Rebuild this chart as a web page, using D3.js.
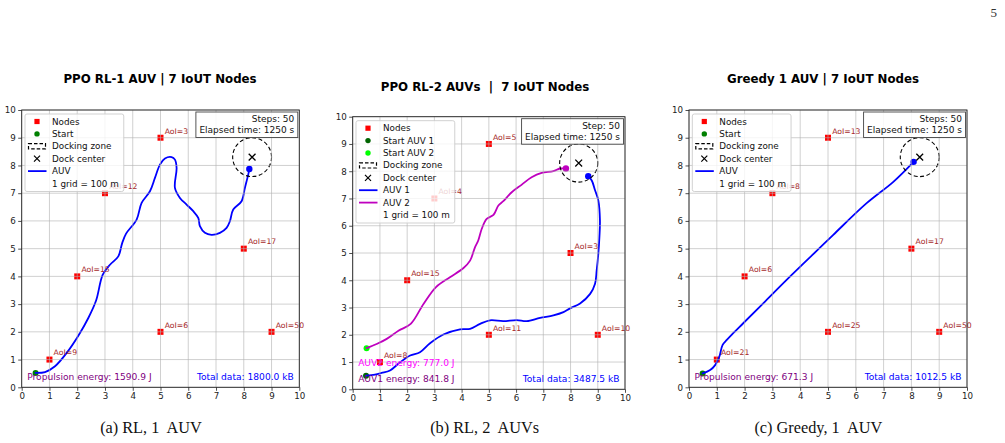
<!DOCTYPE html>
<html><head><meta charset="utf-8">
<script src="https://cdn.jsdelivr.net/npm/d3@7"></script>
<style>body{margin:0;background:#fff;} svg{display:block;} text{white-space:pre;}</style>
</head><body>
<script>
// ---------------- DATA ----------------
const axisTicks = [0,1,2,3,4,5,6,7,8,9,10];
const nodeX = [1,2,3,5,5,8,9];
const nodeY = [1,4,7,9,2,5,2];
const aoiA = [9,15,12,3,6,17,50];
const aoiB = [8,15,4,5,11,3,10];
const aoiC = [21,6,8,13,25,17,50];
const dockCenter = [8.3, 8.3];
const dockRadius = 0.7;

const titles = ["PPO RL-1 AUV | 7 IoUT Nodes", "PPO RL-2 AUVs  |  7 IoUT Nodes", "Greedy 1 AUV | 7 IoUT Nodes"];
const captions = ["(a) RL, 1  AUV", "(b) RL, 2  AUVs", "(c) Greedy, 1  AUV"];
const stepLabels = ["Steps: 50", "Step: 50", "Steps: 50"];
const elapsedLabel = "Elapsed time: 1250 s";
const totalData = ["Total data: 1800.0 kB", "Total data: 3487.5 kB", "Total data: 1012.5 kB"];
const energyA = ["Propulsion energy: 1590.9 J"];
const energyB = ["AUV2 energy: 777.0 J", "AUV1 energy: 841.8 J"];
const energyC = ["Propulsion energy: 671.3 J"];

const pathA = [[0.5,0.52],[0.84,0.55],[1.2,0.76],[1.62,1.24],[2.04,1.86],[2.4,2.5],[2.68,3.13],[2.92,4.06],
  [3.18,4.42],[3.48,4.72],[3.62,5.2],[3.76,5.54],[4.14,6.05],[4.32,6.65],[4.62,7.07],[4.8,7.55],[4.98,8.03],
  [5.16,8.25],[5.4,8.3],[5.52,8.21],[5.58,7.91],[5.52,7.19],[5.7,6.83],[5.94,6.59],[6.18,6.35],[6.36,6.11],
  [6.42,5.81],[6.6,5.57],[6.84,5.5],[7.14,5.57],[7.38,5.75],[7.5,5.99],[7.62,6.41],[7.92,6.71],[8.04,7.19],
  [8.16,7.67],[8.2,7.87]];
const pathB1 = [[0.49,0.5],[0.82,0.54],[1.06,0.6],[1.37,0.69],[1.74,0.99],[2.11,1.24],[2.47,1.36],[2.84,1.69],
  [3.33,2.01],[3.94,2.2],[4.31,2.22],[4.68,2.4],[5.04,2.53],[5.53,2.5],[6.02,2.54],[6.39,2.5],[6.88,2.62],
  [7.37,2.71],[7.74,2.83],[7.98,2.97],[8.35,3.15],[8.72,3.5],[8.9,3.87],[8.96,4.36],[9.02,4.97],[9.06,5.58],
  [9.08,6.19],[9.02,6.93],[8.9,7.3],[8.78,7.66],[8.65,7.82]];
const pathB2 = [[0.51,1.51],[0.88,1.66],[1.25,1.85],[1.68,2.15],[2.13,2.4],[2.6,3.13],[3.06,3.75],[3.57,4.11],
  [4.06,4.44],[4.31,4.72],[4.49,5.21],[4.61,5.46],[4.74,5.89],[4.92,6.25],[5.17,6.4],[5.35,6.74],[5.53,6.9],
  [5.84,7.23],[6.2,7.5],[6.57,7.78],[6.94,7.94],[7.37,8.0],[7.61,8.1],[7.83,8.1]];
const pathC = [[0.49,0.5],[0.76,0.62],[0.94,0.8],[1.09,1.1],[1.21,1.53],[1.36,1.71],[1.59,1.95],[1.95,2.31],
  [2.67,3.03],[3.63,3.99],[4.59,4.92],[5.19,5.5],[6.39,6.64],[7.35,7.41],[8.08,8.13]];

// ---------------- LAYOUT CONFIG ----------------
const panels = [
  {x0:21.7, x1:299.3, y0:387.3, y1:110, titleX:160, titleY:82.7, capX:151, aoi:aoiA,
   paths:[{pts:pathA, color:"#0000ff"}],
   starts:[{p:pathA[0], color:"#008000"}],
   ends:[{p:pathA[pathA.length-1], color:"#0000ff"}],
   energy:[{t:energyA[0], y:0.25, color:"#800080"}],
   steps:stepLabels[0], total:totalData[0], title:titles[0], caption:captions[0],
   legend:[{k:"square",c:"red",t:"Nodes"},{k:"circle",c:"#008000",t:"Start"},{k:"dash",t:"Docking zone"},
           {k:"x",t:"Dock center"},{k:"line",c:"#0000ff",t:"AUV"},{k:"none",t:"1 grid = 100 m"}]},
  {x0:352.7, x1:625, y0:389.3, y1:116.7, titleX:485, titleY:90.7, capX:484.7, aoi:aoiB,
   paths:[{pts:pathB1, color:"#0000ff"},{pts:pathB2, color:"#bf00bf"}],
   starts:[{p:pathB1[0], color:"#006400"},{p:pathB2[0], color:"#00ff00"}],
   ends:[{p:pathB1[pathB1.length-1], color:"#0000ff"},{p:pathB2[pathB2.length-1], color:"#bf00bf"}],
   energy:[{t:energyB[0], y:0.87, color:"#ff00ff"},{t:energyB[1], y:0.27, color:"#800080"}],
   steps:stepLabels[1], total:totalData[1], title:titles[1], caption:captions[1],
   legend:[{k:"square",c:"red",t:"Nodes"},{k:"circle",c:"#006400",t:"Start AUV 1"},{k:"circle",c:"#00ff00",t:"Start AUV 2"},
           {k:"dash",t:"Docking zone"},{k:"x",t:"Dock center"},{k:"line",c:"#0000ff",t:"AUV 1"},
           {k:"line",c:"#bf00bf",t:"AUV 2"},{k:"none",t:"1 grid = 100 m"}]},
  {x0:689, x1:967, y0:387.3, y1:110, titleX:823, titleY:82.7, capX:818.3, aoi:aoiC,
   paths:[{pts:pathC, color:"#0000ff"}],
   starts:[{p:pathC[0], color:"#008000"}],
   ends:[{p:pathC[pathC.length-1], color:"#0000ff"}],
   energy:[{t:energyC[0], y:0.25, color:"#800080"}],
   steps:stepLabels[2], total:totalData[2], title:titles[2], caption:captions[2],
   legend:[{k:"square",c:"red",t:"Nodes"},{k:"circle",c:"#008000",t:"Start"},{k:"dash",t:"Docking zone"},
           {k:"x",t:"Dock center"},{k:"line",c:"#0000ff",t:"AUV"},{k:"none",t:"1 grid = 100 m"}]}
];

const FONT = "DejaVu Sans, sans-serif";
const svg = d3.select("body").append("svg").attr("width",1005).attr("height",443);

svg.append("text").attr("x",997).attr("y",17).attr("text-anchor","end")
  .attr("font-family","Liberation Serif, serif").attr("font-size",13).attr("fill","#333").text("5");

function xMark(g, cx, cy, h, sw){
  g.append("path").attr("d",`M${cx-h},${cy-h}L${cx+h},${cy+h}M${cx-h},${cy+h}L${cx+h},${cy-h}`)
   .attr("stroke","#000").attr("stroke-width",sw).attr("fill","none");
}

panels.forEach(P => {
  const g = svg.append("g");
  const x = d3.scaleLinear().domain([0,10]).range([P.x0,P.x1]);
  const y = d3.scaleLinear().domain([0,10]).range([P.y0,P.y1]);
  const clipId = "clip"+Math.round(P.x0);
  svg.append("clipPath").attr("id",clipId).append("rect")
    .attr("x",P.x0).attr("y",P.y1).attr("width",P.x1-P.x0).attr("height",P.y0-P.y1);

  // title
  g.append("text").attr("x",P.titleX).attr("y",P.titleY).attr("text-anchor","middle")
    .attr("font-family",FONT).attr("font-weight","bold").attr("font-size",11.8).attr("fill","#000").text(P.title);
  // caption
  g.append("text").attr("x",P.capX).attr("y",433).attr("text-anchor","middle")
    .attr("font-family","Liberation Serif, Times New Roman, serif").attr("font-size",16.3).attr("fill","#111").text(P.caption);

  const plot = g.append("g").attr("clip-path",`url(#${clipId})`);
  // nodes (below grid)
  nodeX.forEach((nx,i)=>{
    plot.append("rect").attr("x",x(nx)-3).attr("y",y(nodeY[i])-3).attr("width",6).attr("height",6).attr("fill","#ff0000");
  });
  // docking circle
  g.append("circle").attr("cx",x(dockCenter[0])).attr("cy",y(dockCenter[1]))
    .attr("r",x(dockRadius)-x(0)).attr("fill","none").attr("stroke","#000").attr("stroke-width",1.1)
    .attr("stroke-dasharray","4,2.5");
  // start markers
  P.starts.forEach(s=>{
    plot.append("circle").attr("cx",x(s.p[0])).attr("cy",y(s.p[1])).attr("r",3).attr("fill",s.color);
  });
  // grid
  const grid = g.append("g").attr("stroke","#b0b0b0").attr("stroke-opacity",0.6).attr("stroke-width",1);
  axisTicks.forEach(t=>{
    grid.append("line").attr("x1",x(t)).attr("x2",x(t)).attr("y1",P.y0).attr("y2",P.y1);
    grid.append("line").attr("y1",y(t)).attr("y2",y(t)).attr("x1",P.x0).attr("x2",P.x1);
  });
  // paths
  const line = d3.line().x(d=>x(d[0])).y(d=>y(d[1])).curve(d3.curveCatmullRom.alpha(0.5));
  P.paths.forEach(p=>{
    plot.append("path").attr("d",line(p.pts)).attr("fill","none").attr("stroke",p.color)
      .attr("stroke-width",1.8).attr("stroke-linejoin","round").attr("stroke-linecap","round");
  });
  P.ends.forEach(s=>{
    plot.append("circle").attr("cx",x(s.p[0])).attr("cy",y(s.p[1])).attr("r",3.2).attr("fill",s.color);
  });
  // dock center X
  xMark(g, x(dockCenter[0]), y(dockCenter[1]), 3.4, 1.3);
  // AoI labels (not clipped, as in the reference)
  nodeX.forEach((nx,i)=>{
    g.append("text").attr("x",x(nx+0.15)).attr("y",y(nodeY[i]+0.15))
      .attr("font-family",FONT).attr("font-size",7.7).attr("fill","#a52a2a").text("AoI="+P.aoi[i]);
  });
  // energy / data texts
  P.energy.forEach(e=>{
    g.append("text").attr("x",x(0.2)).attr("y",y(e.y)).attr("font-family",FONT).attr("font-size",9.1)
      .attr("fill",e.color).text(e.t);
  });
  g.append("text").attr("x",x(9.8)).attr("y",y(P.energy[P.energy.length-1].y)).attr("text-anchor","end")
    .attr("font-family",FONT).attr("font-size",9.1).attr("fill","#0000ff").text(P.total);

  // spines
  g.append("rect").attr("x",P.x0).attr("y",P.y1).attr("width",P.x1-P.x0).attr("height",P.y0-P.y1)
    .attr("fill","none").attr("stroke","#222").attr("stroke-width",0.9);
  // axes
  const ax = g.append("g").attr("transform",`translate(0,${P.y0})`)
    .call(d3.axisBottom(x).tickValues(axisTicks).tickSize(3.5).tickPadding(2.5).tickFormat(d3.format("d")));
  const ay = g.append("g").attr("transform",`translate(${P.x0},0)`)
    .call(d3.axisLeft(y).tickValues(axisTicks).tickSize(3.5).tickPadding(2.5).tickFormat(d3.format("d")));
  [ax,ay].forEach(a=>{
    a.select(".domain").remove();
    a.selectAll("line").attr("stroke","#222").attr("stroke-width",0.8);
    a.selectAll("text").attr("font-family",FONT).attr("font-size",8.7).attr("fill","#222");
  });

  // legend
  const L = g.append("g");
  const lx = P.x0 + 3.3, ly = P.y1 + 4;
  const rowH = 12.4;
  const box = L.append("rect").attr("x",lx).attr("y",ly).attr("rx",2).attr("fill","#fff").attr("fill-opacity",0.8)
    .attr("stroke","#cccccc").attr("stroke-width",0.9);
  let maxW = 0;
  P.legend.forEach((it,i)=>{
    const cy = ly + 7.5 + i*rowH;
    const hx = lx + 12;
    if(it.k==="square") L.append("rect").attr("x",hx-2.6).attr("y",cy-2.6).attr("width",5.2).attr("height",5.2).attr("fill",it.c);
    if(it.k==="circle") L.append("circle").attr("cx",hx).attr("cy",cy).attr("r",2.7).attr("fill",it.c);
    if(it.k==="dash") L.append("rect").attr("x",hx-8.5).attr("y",cy-2.6).attr("width",17).attr("height",5.2)
        .attr("fill","none").attr("stroke","#000").attr("stroke-width",1.2).attr("stroke-dasharray","3.5,2");
    if(it.k==="x") xMark(L, hx, cy, 3, 1.2);
    if(it.k==="line") L.append("line").attr("x1",hx-9).attr("x2",hx+9.5).attr("y1",cy).attr("y2",cy)
        .attr("stroke",it.c).attr("stroke-width",1.8);
    const t = L.append("text").attr("x",lx+27).attr("y",cy).attr("dy","0.35em")
      .attr("font-family",FONT).attr("font-size",8.8).attr("fill","#111").text(it.t);
    maxW = Math.max(maxW, t.node().getComputedTextLength());
  });
  box.attr("width", 27 + maxW + 5).attr("height", 7.5 + (P.legend.length-1)*rowH + 8);

  // step/time box
  const T = g.append("g");
  const tr = P.x1 - 1.5, tt = P.y1 + 2;
  const tb = T.append("rect").attr("y",tt).attr("height",25.5).attr("fill","#fff").attr("fill-opacity",0.85)
    .attr("stroke","#444").attr("stroke-width",0.9);
  const t1 = T.append("text").attr("x",tr-3.5).attr("y",tt+10.2).attr("text-anchor","end")
    .attr("font-family",FONT).attr("font-size",9).attr("fill","#111").text(P.steps);
  const t2 = T.append("text").attr("x",tr-3.5).attr("y",tt+21).attr("text-anchor","end")
    .attr("font-family",FONT).attr("font-size",9).attr("fill","#111").text(elapsedLabel);
  const w = Math.max(t1.node().getComputedTextLength(), t2.node().getComputedTextLength());
  tb.attr("x", tr - w - 7).attr("width", w + 7);
});
</script>
</body></html>
